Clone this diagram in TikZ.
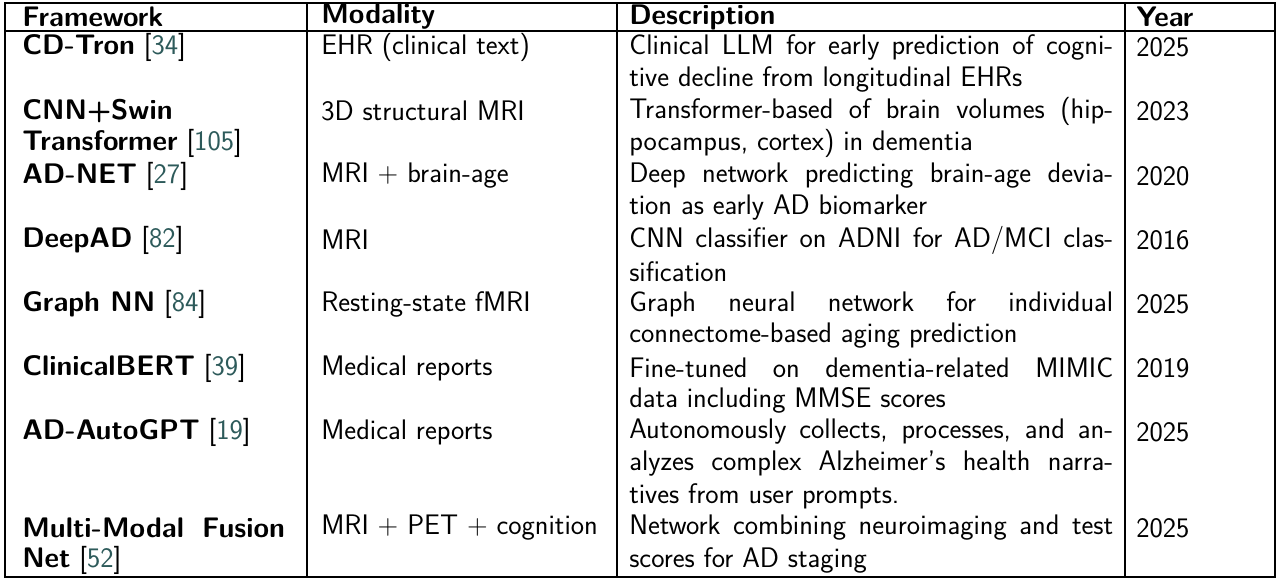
\documentclass[tikz,border=0pt]{standalone}
\usepackage{xcolor}
\definecolor{cite}{RGB}{45,90,90}
\newcommand{\ct}[1]{[\textcolor{cite}{#1}]}
\newcommand{\jl}[1]{\hbox to 363pt{#1}}
\newcommand{\jf}[1]{\hbox to 197pt{#1}}
\begin{document}
\begin{tikzpicture}[x=0.75pt,y=-0.75pt,
  t/.style={anchor=west,inner sep=0pt,font=\sffamily\fontsize{21.2}{25}\selectfont},
  ln/.style={line width=0.9pt}]
\useasboundingbox (0,0) rectangle (1280,582);
\draw[ln] (5,3) rectangle (1275,577);
\foreach \x in {307,617,1125} \draw[ln] (\x,3) -- (\x,577);
\draw[ln] (5,31) -- (1275,31);
% header
\node[t] (h1) at (22,17) {\textbf{Framework}};
\node[t] (h2) at (321,17) {\textbf{Modality}};
\node[t] (h3) at (629,17) {\textbf{Description}};
\node[t] (h4) at (1136,17) {\textbf{Year}};
% row 1
\node[t] (f1) at (22,47) {\textbf{CD-Tron} \ct{34}};
\node[t] (m1) at (321,47) {EHR (clinical text)};
\node[t] (d1a) at (629,47) {\jl{Clinical LLM for early prediction of cogni-}};
\node[t] (d1b) at (629,79) {tive decline from longitudinal EHRs};
\node[t] (y1) at (1136,47) {2025};
% row 2
\node[t] (f2a) at (22,111) {\textbf{CNN+Swin}};
\node[t] (f2b) at (22,143) {\textbf{Transformer} \ct{105}};
\node[t] (m2) at (321,111) {3D structural MRI};
\node[t] (d2a) at (629,111) {\jl{Transformer-based of brain volumes (hip-}};
\node[t] (d2b) at (629,143) {pocampus, cortex) in dementia};
\node[t] (y2) at (1136,111) {2023};
% row 3
\node[t] (f3) at (22,176) {\textbf{AD-NET} \ct{27}};
\node[t] (m3) at (321,176) {MRI + brain-age};
\node[t] (d3a) at (629,176) {\jl{Deep network predicting brain-age devia-}};
\node[t] (d3b) at (629,208) {tion as early AD biomarker};
\node[t] (y3) at (1136,176) {2020};
% row 4
\node[t] (f4) at (22,240) {\textbf{DeepAD} \ct{82}};
\node[t] (m4) at (321,240) {MRI};
\node[t] (d4a) at (629,240) {\jl{CNN classifier on ADNI for AD/MCI clas-}};
\node[t] (d4b) at (629,272) {sification};
\node[t] (y4) at (1136,240) {2016};
% row 5
\node[t] (f5) at (22,304) {\textbf{Graph NN} \ct{84}};
\node[t] (m5) at (321,304) {Resting-state fMRI};
\node[t] (d5a) at (629,304) {\jl{Graph neural network for individual}};
\node[t] (d5b) at (629,336) {connectome-based aging prediction};
\node[t] (y5) at (1136,304) {2025};
% row 6
\node[t] (f6) at (22,368) {\textbf{ClinicalBERT} \ct{39}};
\node[t] (m6) at (321,368) {Medical reports};
\node[t] (d6a) at (629,368) {\jl{Fine-tuned on dementia-related MIMIC}};
\node[t] (d6b) at (629,400) {data including MMSE scores};
\node[t] (y6) at (1136,368) {2019};
% row 7
\node[t] (f7) at (22,432) {\textbf{AD-AutoGPT} \ct{19}};
\node[t] (m7) at (321,432) {Medical reports};
\node[t] (d7a) at (629,432) {\jl{Autonomously collects, processes, and an-}};
\node[t] (d7b) at (629,464) {\jl{alyzes complex Alzheimer's health narra-}};
\node[t] (d7c) at (629,496) {tives from user prompts.};
\node[t] (y7) at (1136,432) {2025};
% row 8
\node[t] (f8a) at (22,528) {\jf{\textbf{Multi-Modal Fusion}}};
\node[t] (f8b) at (22,560) {\textbf{Net} \ct{52}};
\node[t] (m8) at (321,528) {MRI + PET + cognition};
\node[t] (d8a) at (629,528) {\jl{Network combining neuroimaging and test}};
\node[t] (d8b) at (629,560) {scores for AD staging};
\node[t] (y8) at (1136,528) {2025};
\end{tikzpicture}
\end{document}
